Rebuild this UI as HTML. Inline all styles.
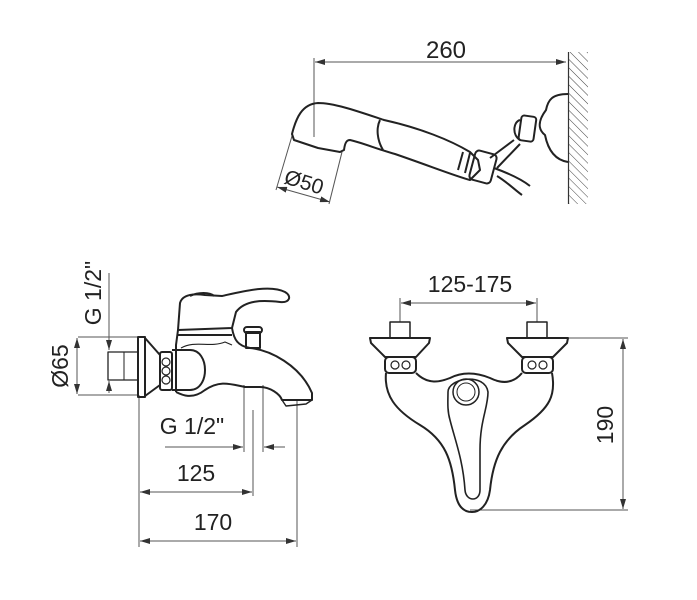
<!DOCTYPE html>
<html><head><style>body{margin:0;background:#fff}svg{display:block}text{font-family:"Liberation Sans",sans-serif;fill:#222}</style></head><body>
<svg width="697" height="600" viewBox="0 0 697 600" xmlns="http://www.w3.org/2000/svg">
<defs>
<marker id="a" markerWidth="10" markerHeight="6" refX="10" refY="3" orient="auto-start-reverse" markerUnits="userSpaceOnUse"><path d="M0,0 L10,3 L0,6 Z" fill="#333"/></marker>
<pattern id="h" width="6" height="6" patternUnits="userSpaceOnUse" patternTransform="rotate(-45)"><line x1="0" y1="0" x2="0" y2="6" stroke="#444" stroke-width="1"/></pattern>
</defs>
<g stroke="#555" stroke-width="1" fill="none">
<line x1="314" y1="58" x2="314" y2="137"/>
<line x1="315" y1="62" x2="566" y2="62" marker-start="url(#a)" marker-end="url(#a)"/>
<line x1="277" y1="187" x2="330" y2="202" marker-start="url(#a)" marker-end="url(#a)"/>
<line x1="292" y1="136" x2="276" y2="190"/>
<line x1="342" y1="152" x2="329" y2="204"/>
<line x1="109" y1="273" x2="109" y2="350" marker-end="url(#a)"/>
<line x1="109" y1="393" x2="109" y2="381" marker-end="url(#a)"/>
<line x1="78" y1="337" x2="138" y2="337"/>
<line x1="78" y1="395" x2="138" y2="395"/>
<line x1="77" y1="338" x2="77" y2="394" marker-start="url(#a)" marker-end="url(#a)"/>
<line x1="139" y1="395" x2="139" y2="547"/>
<line x1="244" y1="385" x2="244" y2="452"/>
<line x1="263" y1="385" x2="263" y2="452"/>
<line x1="253" y1="410" x2="253" y2="496"/>
<line x1="297" y1="400" x2="297" y2="547"/>
<line x1="165" y1="447" x2="243" y2="447" marker-end="url(#a)"/>
<line x1="285" y1="447" x2="264" y2="447" marker-end="url(#a)"/>
<line x1="140" y1="492" x2="252" y2="492" marker-start="url(#a)" marker-end="url(#a)"/>
<line x1="140" y1="541" x2="296" y2="541" marker-start="url(#a)" marker-end="url(#a)"/>
<line x1="400" y1="298" x2="400" y2="322"/>
<line x1="537" y1="298" x2="537" y2="322"/>
<line x1="401" y1="303" x2="536" y2="303" marker-start="url(#a)" marker-end="url(#a)"/>
<line x1="568" y1="338" x2="628" y2="338"/>
<line x1="470" y1="510" x2="628" y2="510"/>
<line x1="623" y1="339" x2="623" y2="509" marker-start="url(#a)" marker-end="url(#a)"/>
</g>
<rect x="569" y="52" width="19" height="152" fill="url(#h)"/>
<line x1="568.5" y1="52" x2="568.5" y2="204" stroke="#333" stroke-width="1.2"/>
<g stroke="#222" stroke-width="2" fill="none" stroke-linejoin="round">
<path d="M568,94 C552,94 548,100 546,110 C540,118 536,128 545,135 C548,150 555,160 568,162"/>
<rect x="520" y="116" width="15" height="25" rx="3" transform="rotate(8 527 128)"/>
<path d="M520,120 C513,122 512,135 520,140"/>
<path d="M514,140 L490,158 M520,144 L497,168"/>
<path d="M292,134 C296,118 302,104 318,103 C335,103 360,112 384,120 C420,128 450,140 470,152 L478,160 L480,170 L470,180 C455,176 430,166 395,154 C380,150 360,142 350,140 C347,140 345,142 344,150 L340,152 L318,148 L294,140 Z"/>
<path d="M380,120 C376,128 377,140 383,150"/>
<path d="M463,152 L458,170 M470,153 L465,173"/>
<rect x="472" y="152" width="22" height="30" rx="4" transform="rotate(15 483 167)"/>
<path d="M494,168 C505,172 520,178 530,186"/>
<path d="M497,176 C507,182 515,190 522,195"/>
</g>
<g stroke="#222" stroke-width="2" fill="none" stroke-linejoin="round">
<path d="M108,352 L138,352 L138,380 L108,380 Z" stroke-width="1.3"/>
<line x1="124" y1="352" x2="124" y2="380" stroke-width="1"/>
<path d="M138,337 L145,337 L145,397 L138,397 Z"/>
<path d="M145,338 L160,355 L160,385 L145,396"/>
<rect x="160" y="352" width="12" height="38" rx="2"/>
<circle cx="166" cy="362" r="4" stroke-width="1.2"/><circle cx="166" cy="371" r="4" stroke-width="1.2"/><circle cx="166" cy="380" r="4" stroke-width="1.2"/>
<path d="M172,350 L190,350 C210,350 210,390 190,390 L172,390"/>
<path d="M178,330 L180,303 C182,296 190,293 205,295 L222,296 C240,292 270,284 285,292 C292,296 290,303 280,302 C262,300 245,300 236,312 L232,328 Z"/>
<path d="M190,296 C198,292 210,292 214,296"/>
<path d="M178,330 L176,345 L176,392"/>
<path d="M178,335 L232,335"/>
<path d="M232,328 C234,340 238,346 250,348 C270,350 300,365 312,393 L312,400 L282,400 C280,394 270,387 260,387 L245,387 C230,384 220,380 205,390 C192,400 182,395 176,392"/>
<path d="M181,348 C195,340 210,348 225,342 L232,345" stroke-width="1.2"/>
<rect x="246" y="332" width="14" height="16"/>
<rect x="244" y="327" width="18" height="6" rx="3"/>
<path d="M282,400 L286,406 L306,404 L312,400" stroke-width="1.4"/>
<rect x="390" y="322" width="20" height="16" stroke-width="1.5"/>
<rect x="527" y="322" width="20" height="16" stroke-width="1.5"/>
<path d="M370,338 L430,338 L429,343 L416,357 L385,357 L371,343 Z"/>
<path d="M507,338 L568,338 L567,343 L553,357 L522,357 L508,343 Z"/>
<rect x="385" y="357" width="31" height="16" rx="4"/>
<rect x="522" y="357" width="31" height="16" rx="4"/>
<circle cx="395" cy="365" r="4" stroke-width="1.2"/><circle cx="406" cy="365" r="4" stroke-width="1.2"/>
<circle cx="532" cy="365" r="4" stroke-width="1.2"/><circle cx="543" cy="365" r="4" stroke-width="1.2"/>
<path d="M386,373 C384,395 395,410 420,425 C445,440 452,460 455,490 C457,508 465,512 472,512 C480,512 488,505 490,490 C493,460 502,440 525,425 C550,408 556,395 552,373"/>
<path d="M416,373 C428,385 440,382 450,378 C462,372 475,372 490,378 C500,383 512,385 522,373"/>
<path d="M448,392 C448,378 485,372 488,392 C488,408 480,420 480,450 L480,490 C480,502 466,502 465,490 C463,460 455,440 450,420 C447,410 448,400 448,392 Z" stroke-width="1.6"/>
<circle cx="466" cy="392" r="13" stroke-width="1.5"/>
<circle cx="466" cy="392" r="9" stroke-width="1"/>
</g>
<text x="446" y="58" font-size="24" text-anchor="middle">260</text>
<text x="283" y="183" font-size="21" transform="rotate(17 283 183)">Ø50</text>
<text x="101" y="293" font-size="23" text-anchor="middle" transform="rotate(-90 101 293)">G 1/2"</text>
<text x="68" y="366" font-size="23" text-anchor="middle" transform="rotate(-90 68 366)">Ø65</text>
<text x="192" y="434" font-size="23" text-anchor="middle">G 1/2"</text>
<text x="196" y="481" font-size="23" text-anchor="middle">125</text>
<text x="213" y="530" font-size="23" text-anchor="middle">170</text>
<text x="470" y="292" font-size="23" text-anchor="middle">125-175</text>
<text x="613" y="425" font-size="23" text-anchor="middle" transform="rotate(-90 613 425)">190</text>
</svg>
</body></html>
